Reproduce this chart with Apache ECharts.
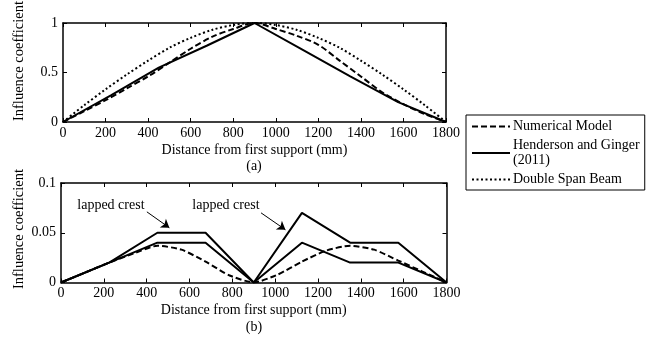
<!DOCTYPE html>
<html>
<head>
<meta charset="utf-8">
<script src="https://cdn.jsdelivr.net/npm/echarts@6/dist/echarts.min.js"></script>
<style>
  html, body { margin: 0; padding: 0; background: #fff; }
  #chart { width: 651px; height: 338px; }
</style>
</head>
<body>
<div id="chart"></div>
<script>
// ---- data ----
var xFine = [0, 100, 200, 300, 400, 500, 600, 700, 800, 900, 1000, 1100, 1200, 1300, 1400, 1500, 1600, 1700, 1800];
var xQuarter = [0, 225, 450, 675, 900, 1125, 1350, 1575, 1800];
var xEighth = [0, 112.5, 225, 337.5, 450, 562.5, 675, 787.5, 900, 1012.5, 1125, 1237.5, 1350, 1462.5, 1575, 1687.5, 1800];

// (a) reaction influence lines
var numericalA = [0, 0.11, 0.22, 0.34, 0.46, 0.6, 0.74, 0.86, 0.94, 1, 0.94, 0.87, 0.78, 0.62, 0.46, 0.3, 0.18, 0.08, 0];
var hendersonA = [0, 0.27, 0.55, 0.77, 1, 0.73, 0.46, 0.2, 0];
var doubleSpanA = [0, 0.17, 0.33, 0.48, 0.62, 0.75, 0.85, 0.93, 0.98, 1, 0.98, 0.93, 0.85, 0.75, 0.62, 0.48, 0.33, 0.17, 0];

// (b) fastener influence lines
var numericalB = [0, 0.01, 0.02, 0.029, 0.037, 0.033, 0.021, 0.007, 0, 0.008, 0.021, 0.032, 0.037, 0.033, 0.022, 0.011, 0];
var hendersonB1 = [0, 0.02, 0.05, 0.05, 0, 0.07, 0.04, 0.04, 0];
var hendersonB2 = [0, 0.02, 0.04, 0.04, 0, 0.04, 0.02, 0.02, 0];

var xTicks = { min: 0, max: 1800, interval: 200 };
var yTicksA = { min: 0, max: 1, interval: 0.5 };
var yTicksB = { min: 0, max: 0.1, interval: 0.05 };

var names = ['Numerical Model', 'Henderson and Ginger\n(2011)', 'Double Span Beam'];

var FONT = 'Liberation Serif, Times New Roman, serif';

function pairs(xs, ys) {
    return xs.map(function (x, i) { return [x, ys[i]]; });
}

function plain(v) {
    return String(+v.toFixed(4));
}

function xAx(grid, pos, showLabel, name) {
    return {
        type: 'value', gridIndex: grid, position: pos,
        min: xTicks.min, max: xTicks.max, interval: xTicks.interval,
        axisLine: { show: true, onZero: false, lineStyle: { color: '#000', width: 1.5 } },
        axisTick: { show: true, inside: true, length: 4, lineStyle: { color: '#000', width: 1 } },
        axisLabel: { show: showLabel, color: '#000', fontFamily: FONT, fontSize: 14, margin: 4, formatter: plain },
        splitLine: { show: false },
        name: name || '', nameLocation: 'middle', nameGap: 21,
        nameTextStyle: { color: '#000', fontFamily: FONT, fontSize: 14 }
    };
}

function yAx(grid, pos, showLabel, t) {
    return {
        type: 'value', gridIndex: grid, position: pos,
        min: t.min, max: t.max, interval: t.interval,
        axisLine: { show: true, onZero: false, lineStyle: { color: '#000', width: 1.5 } },
        axisTick: { show: true, inside: true, length: 4, lineStyle: { color: '#000', width: 1 } },
        axisLabel: { show: showLabel, color: '#000', fontFamily: FONT, fontSize: 14, margin: 5, formatter: plain },
        splitLine: { show: false }
    };
}

var dashed = { color: '#000', width: 2, type: [6, 3] };
var solid = { color: '#000', width: 2, type: 'solid' };
var dotted = { color: '#000', width: 2, type: [2, 2.5] };

var chart = echarts.init(document.getElementById('chart'));
var option = {
    animation: false,
    backgroundColor: '#fff',
    grid: [
        { left: 63, top: 23, width: 383, height: 99, containLabel: false, outerBoundsMode: 'none' },
        { left: 61, top: 183, width: 385.5, height: 99.5, containLabel: false, outerBoundsMode: 'none' }
    ],
    xAxis: [
        xAx(0, 'bottom', true, 'Distance from first support (mm)'),
        xAx(0, 'top', false),
        xAx(1, 'bottom', true, 'Distance from first support (mm)'),
        xAx(1, 'top', false)
    ],
    yAxis: [
        yAx(0, 'left', true, yTicksA),
        yAx(0, 'right', false, yTicksA),
        yAx(1, 'left', true, yTicksB),
        yAx(1, 'right', false, yTicksB)
    ],
    legend: {
        data: names,
        orient: 'vertical',
        left: 466, top: 115,
        padding: [4, 5, 3, 5],
        itemGap: 4,
        itemWidth: 38, itemHeight: 14,
        itemStyle: { opacity: 0 },
        borderColor: '#000', borderWidth: 1,
        textStyle: { color: '#000', fontFamily: FONT, fontSize: 14, lineHeight: 15, padding: [0, 0, 0, -2] },
        selectedMode: false
    },
    graphic: [
        { type: 'text', x: 19, y: 61, rotation: Math.PI / 2,
          style: { text: 'Influence coefficient', font: '14.5px ' + FONT, fill: '#000', textAlign: 'center', textVerticalAlign: 'middle' } },
        { type: 'text', x: 19, y: 229, rotation: Math.PI / 2,
          style: { text: 'Influence coefficient', font: '14.5px ' + FONT, fill: '#000', textAlign: 'center', textVerticalAlign: 'middle' } },
        { type: 'text', x: 254, y: 166,
          style: { text: '(a)', font: '14px ' + FONT, fill: '#000', textAlign: 'center', textVerticalAlign: 'middle' } },
        { type: 'text', x: 254, y: 327,
          style: { text: '(b)', font: '14px ' + FONT, fill: '#000', textAlign: 'center', textVerticalAlign: 'middle' } }
    ],
    series: [
        { name: names[0], type: 'line', xAxisIndex: 0, yAxisIndex: 0, symbol: 'none', smooth: 0.3,
          lineStyle: dashed, itemStyle: { color: '#000' }, data: pairs(xFine, numericalA) },
        { name: names[1], type: 'line', xAxisIndex: 0, yAxisIndex: 0, symbol: 'none',
          lineStyle: solid, itemStyle: { color: '#000' }, data: pairs(xQuarter, hendersonA) },
        { name: names[2], type: 'line', xAxisIndex: 0, yAxisIndex: 0, symbol: 'none', smooth: 0.3,
          lineStyle: dotted, itemStyle: { color: '#000' }, data: pairs(xFine, doubleSpanA) },

        { name: names[0], type: 'line', xAxisIndex: 2, yAxisIndex: 2, symbol: 'none', smooth: 0.2,
          lineStyle: dashed, itemStyle: { color: '#000' }, data: pairs(xEighth, numericalB) },
        { name: names[1], type: 'line', xAxisIndex: 2, yAxisIndex: 2, symbol: 'none',
          lineStyle: solid, itemStyle: { color: '#000' }, data: pairs(xQuarter, hendersonB1),
          markPoint: {
              symbol: 'rect', symbolSize: 1, silent: true,
              itemStyle: { color: 'rgba(0,0,0,0)' },
              label: { show: true, position: 'inside', formatter: '{b}', color: '#000', fontFamily: FONT, fontSize: 14 },
              data: [
                  { name: 'lapped crest', coord: [233, 0.078] },
                  { name: 'lapped crest', coord: [770, 0.078] }
              ]
          },
          markLine: {
              silent: true, symbol: ['none', 'arrow'], symbolSize: 8,
              lineStyle: { color: '#000', width: 1, type: 'solid' },
              label: { show: false },
              data: [
                  [{ coord: [401, 0.071] }, { coord: [506, 0.055] }],
                  [{ coord: [934, 0.070] }, { coord: [1048, 0.053] }]
              ]
          } },
        { name: names[1], type: 'line', xAxisIndex: 2, yAxisIndex: 2, symbol: 'none',
          lineStyle: solid, itemStyle: { color: '#000' }, data: pairs(xQuarter, hendersonB2) }
    ]
};
chart.setOption(option);
window.addEventListener('resize', function () {
    chart.resize();
});
</script>
</body>
</html>
